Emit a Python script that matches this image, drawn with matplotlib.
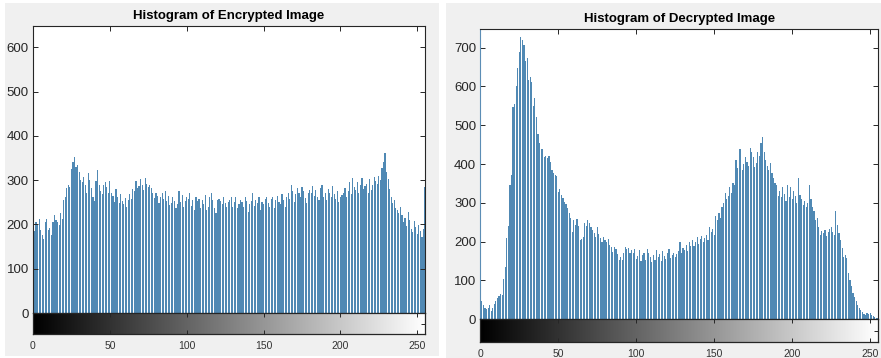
import numpy as np
import matplotlib
matplotlib.use("Agg")
import matplotlib.pyplot as plt
from matplotlib.patches import Rectangle

plt.rcParams['font.family'] = ['Liberation Sans', 'DejaVu Sans']

# grey-level bins 0..255
levels = np.arange(256)

# pixel counts per grey level, encrypted image
enc_counts = [
    290, 186, 205, 198, 213, 188, 176, 168, 205, 212, 188, 192, 175, 205, 222, 210,
    205, 198, 225, 212, 255, 262, 282, 290, 285, 325, 340, 352, 330, 335, 318, 300,
    296, 308, 288, 270, 315, 300, 282, 262, 252, 298, 322, 290, 276, 268, 290, 295,
    285, 270, 298, 272, 265, 250, 280, 262, 248, 268, 252, 246, 260, 240, 255, 268,
    258, 280, 275, 298, 282, 286, 302, 290, 278, 305, 292, 285, 290, 282, 272, 260,
    270, 265, 248, 262, 270, 258, 276, 252, 265, 244, 248, 262, 252, 238, 246, 275,
    250, 266, 240, 252, 262, 258, 270, 242, 256, 232, 262, 254, 258, 236, 255, 245,
    266, 232, 240, 262, 270, 255, 238, 226, 255, 258, 252, 246, 262, 248, 240, 250,
    256, 262, 240, 250, 262, 236, 246, 256, 250, 240, 262, 252, 228, 245, 252, 270,
    242, 255, 248, 262, 232, 250, 245, 258, 262, 248, 240, 258, 262, 238, 256, 264,
    250, 246, 268, 255, 240, 262, 272, 258, 290, 276, 250, 268, 282, 272, 262, 285,
    276, 260, 248, 272, 278, 270, 286, 265, 278, 262, 255, 282, 290, 262, 272, 255,
    280, 270, 262, 286, 268, 258, 276, 250, 262, 266, 270, 282, 262, 276, 296, 268,
    305, 285, 278, 296, 272, 290, 305, 280, 286, 292, 270, 302, 278, 290, 308, 298,
    292, 310, 300, 328, 340, 362, 318, 302, 280, 262, 248, 256, 238, 232, 226, 240,
    222, 205, 215, 196, 228, 210, 190, 182, 208, 195, 178, 198, 186, 172, 190, 285,
]

# pixel counts per grey level, decrypted image
dec_counts = [
    112, 48, 38, 30, 26, 28, 36, 22, 30, 40, 46, 56, 60, 66, 62, 105,
    135, 210, 240, 345, 372, 548, 555, 600, 647, 688, 728, 720, 708, 665, 672, 617,
    625, 612, 550, 570, 522, 478, 455, 440, 438, 418, 420, 415, 422, 405, 385, 378,
    372, 370, 329, 335, 320, 312, 303, 296, 287, 274, 262, 226, 256, 242, 258, 240,
    204, 208, 213, 248, 240, 256, 249, 238, 230, 222, 212, 239, 220, 209, 200, 213,
    205, 198, 208, 191, 186, 174, 187, 180, 168, 153, 160, 153, 170, 187, 180, 185,
    170, 178, 172, 180, 155, 162, 178, 150, 165, 170, 152, 180, 172, 160, 148, 165,
    152, 178, 160, 168, 150, 175, 162, 155, 170, 180, 158, 165, 172, 160, 168, 175,
    200, 172, 185, 178, 192, 175, 200, 188, 205, 190, 198, 212, 195, 208, 215, 200,
    210, 218, 205, 239, 225, 232, 217, 265, 255, 274, 262, 290, 300, 325, 310, 318,
    340, 325, 351, 345, 410, 390, 440, 438, 385, 400, 419, 405, 395, 441, 430, 419,
    392, 402, 432, 420, 454, 470, 432, 410, 395, 385, 402, 376, 365, 350, 345, 318,
    330, 315, 340, 322, 305, 345, 315, 340, 310, 330, 318, 300, 364, 320, 310, 295,
    305, 290, 300, 346, 310, 290, 280, 255, 262, 239, 217, 228, 222, 230, 215, 225,
    232, 239, 225, 218, 280, 242, 222, 204, 185, 161, 165, 158, 119, 101, 85, 67,
    58, 48, 37, 30, 24, 18, 14, 12, 15, 14, 16, 10, 8, 7, 4, 3,
]

titles = ["Histogram of Encrypted Image", "Histogram of Decrypted Image"]
y_ticks = [[0, 100, 200, 300, 400, 500, 600], [0, 100, 200, 300, 400, 500, 600, 700]]
y_tops = [648, 748]
x_ticks = [0, 50, 100, 150, 200, 250]

bar_color = '#5089b4'
axis_color = '#262626'
panel_grey = '#f0f0f0'

W, H = 881, 358
fig = plt.figure(figsize=(W / 100, H / 100), dpi=100)
fig.patch.set_facecolor('white')

def px_box(x0, y0, x1, y1):
    # pixel box (top-left origin) -> figure fraction [l, b, w, h]
    return [x0 / W, (H - y1) / H, (x1 - x0) / W, (y1 - y0) / H]

# grey panel backgrounds behind each histogram
for (x0, y0, x1, y1) in [(5, 3, 439, 356), (446, 3, 881, 358)]:
    l, b, w, h = px_box(x0, y0, x1, y1)
    fig.patches.append(Rectangle((l, b), w, h, transform=fig.transFigure,
                                 facecolor=panel_grey, edgecolor='none', zorder=-10))

hist_boxes = [(33, 26, 425, 313), (480.3, 29, 878, 319.3)]
bar_boxes = [(33, 313, 425, 334), (480.3, 319.3, 878, 341.7)]
all_counts = [enc_counts, dec_counts]

gradient = np.linspace(0, 1, 256).reshape(1, -1)

for i in range(2):
    ax = fig.add_axes(px_box(*hist_boxes[i]))
    ax.set_facecolor('white')
    ax.bar(levels, all_counts[i], width=0.75, color=bar_color, linewidth=0)
    ax.set_xlim(0, 255)
    ax.set_ylim(0, y_tops[i])
    ax.set_yticks(y_ticks[i])
    ax.set_xticks(x_ticks)
    ax.tick_params(axis='y', direction='in', left=True, right=True,
                   length=3.5, width=0.7, colors=axis_color, labelsize=9.5, pad=3)
    ax.tick_params(axis='x', direction='in', top=True, bottom=False,
                   labelbottom=False, length=3.5, width=0.7, colors=axis_color)
    for s in ax.spines.values():
        s.set_color(axis_color)
        s.set_linewidth(0.8)
    if i == 1:
        ax.spines['left'].set_color('#5b8db5')
    ax.set_title(titles[i], fontsize=9.5, fontweight='bold', color='black', pad=5)

    # grey-level colour strip under the histogram
    cax = fig.add_axes(px_box(*bar_boxes[i]))
    cax.imshow(gradient, cmap='gray', aspect='auto', extent=[0, 255, 0, 1])
    cax.set_xlim(0, 255)
    cax.set_ylim(0, 1)
    cax.set_xticks(x_ticks)
    cax.set_yticks([0.5])
    cax.tick_params(axis='x', direction='in', top=True, bottom=True,
                    length=3, width=0.7, colors=axis_color, labelsize=7.5, pad=5)
    cax.tick_params(axis='x', labelcolor='#333333')
    cax.tick_params(axis='y', direction='in', left=False, right=True,
                    labelleft=False, length=3, width=0.7, colors=axis_color)
    for s in cax.spines.values():
        s.set_color(axis_color)
        s.set_linewidth(0.9)

fig.savefig('out.png', dpi=100, facecolor=fig.get_facecolor())
